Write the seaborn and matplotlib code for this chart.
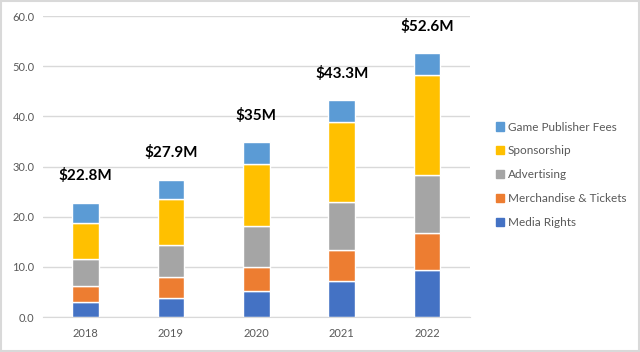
import numpy as np
import pandas as pd
import matplotlib.pyplot as plt
import seaborn as sns
from matplotlib.patches import Rectangle

years = ['2018', '2019', '2020', '2021', '2022']
media_rights = [2.9, 3.8, 5.2, 7.2, 9.4]
merch_tickets = [3.3, 4.1, 4.8, 6.2, 7.4]
advertising = [5.4, 6.4, 8.1, 9.5, 11.6]
sponsorship = [7.2, 9.2, 12.5, 16.0, 19.9]
publisher_fees = [4.0, 3.9, 4.2, 4.35, 4.3]
total_labels = ['$22.8M', '$27.9M', '$35M', '$43.3M', '$52.6M']

series = [
    ('Media Rights', media_rights, '#4472C4'),
    ('Merchandise & Tickets', merch_tickets, '#ED7D31'),
    ('Advertising', advertising, '#A5A5A5'),
    ('Sponsorship', sponsorship, '#FFC000'),
    ('Game Publisher Fees', publisher_fees, '#5B9BD5'),
]

sns.set_style('white')
plt.rcParams['font.family'] = ['Lato', 'DejaVu Sans']

fig = plt.figure(figsize=(6.4, 3.52), dpi=100)
ax = fig.add_axes([0.067, 0.0994, 0.667, 0.8551])

bottom = np.zeros(len(years))
handles = []
for name, vals, col in series:
    df = pd.DataFrame({'year': years, 'value': vals})
    sns.barplot(data=df, x='year', y='value', color=col, width=0.31,
                bottom=bottom, errorbar=None, ax=ax, saturation=1)
    bottom = bottom + np.array(vals)
    handles.append(Rectangle((0, 0), 1, 1, color=col, label=name))

for i, lab in enumerate(total_labels):
    ax.annotate(lab, (i, bottom[i]), xytext=(0, 14), textcoords='offset points',
                ha='center', va='bottom', fontsize=11, fontweight='bold', color='black')

ax.set_ylim(0, 60)
ax.set_xlim(-0.5, 4.5)
ax.set_yticks(np.arange(0, 61, 10))
ax.set_yticklabels([f'{v:.1f}' for v in np.arange(0, 61, 10)])
ax.yaxis.grid(True, color='#D9D9D9', linewidth=1)
ax.set_axisbelow(True)
for s in ['top', 'right', 'left']:
    ax.spines[s].set_visible(False)
ax.spines['bottom'].set_color('#D9D9D9')
ax.tick_params(axis='both', length=0, labelsize=8, labelcolor='#595959', pad=8)
ax.tick_params(axis='y', pad=6)
ax.set_xlabel('')
ax.set_ylabel('')

fig.legend(handles=handles[::-1], loc='upper left', bbox_to_anchor=(0.758, 0.685),
           frameon=False, fontsize=8.5, labelcolor='#595959', handlelength=0.7,
           handleheight=0.7, handletextpad=0.3, labelspacing=1.1)

fig.patches.append(Rectangle((0.002, 0.003), 0.996, 0.994, transform=fig.transFigure,
                             fill=False, edgecolor='#D9D9D9', linewidth=1.5))

fig.savefig('out.png', dpi=100)
